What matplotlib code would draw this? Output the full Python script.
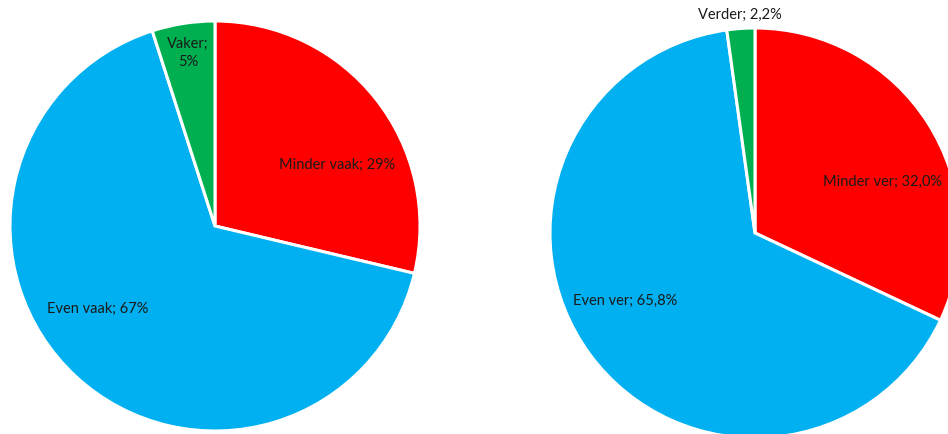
import matplotlib.pyplot as plt

# share of trips compared to before
freq_labels = ['Minder vaak; 29%', 'Even vaak; 67%', 'Vaker;\n5%']
freq_values = [29, 67, 5]

dist_labels = ['Minder ver; 32,0%', 'Even ver; 65,8%', 'Verder; 2,2%']
dist_values = [32.0, 65.8, 2.2]

colors = ['#FF0000', '#00B0F0', '#00B050']

plt.rcParams['font.family'] = ['Lato', 'DejaVu Sans']

fig = plt.figure(figsize=(9.48, 4.35), dpi=100)
ax = fig.add_axes([0, 0, 1, 1])
ax.set_xlim(0, 948)
ax.set_ylim(0, 435)
ax.set_aspect('equal')
ax.axis('off')

wedge_style = dict(edgecolor='white', linewidth=2.2)

ax.pie(freq_values, colors=colors, startangle=90, counterclock=False,
       center=(215, 208), radius=205, wedgeprops=wedge_style, frame=True)
ax.pie(dist_values, colors=colors, startangle=90, counterclock=False,
       center=(755, 201), radius=205, wedgeprops=wedge_style, frame=True)
ax.set_xlim(0, 948)
ax.set_ylim(0, 435)
ax.axis('off')

txt = dict(fontsize=10.5, color='#1a1a1a', ha='center', va='center')
freq_pos = [(337, 270), (98, 126), (188, 382)]
dist_pos = [(883, 253), (625, 134), (740, 420)]
for lab, (x, y) in zip(freq_labels, freq_pos):
    ax.text(x, y, lab, linespacing=1.3, **txt)
for lab, (x, y) in zip(dist_labels, dist_pos):
    ax.text(x, y, lab, **txt)

fig.savefig('out.png', dpi=100)
